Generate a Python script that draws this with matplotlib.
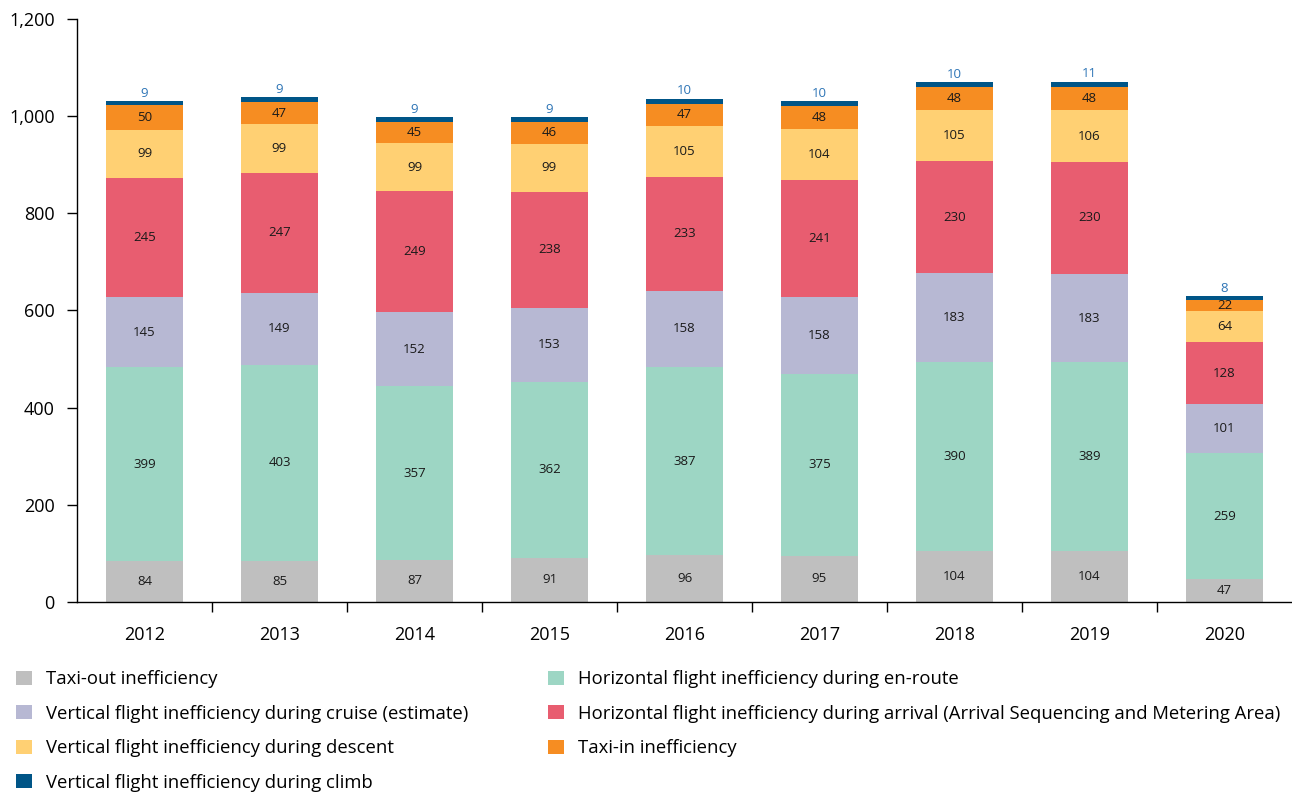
import matplotlib
matplotlib.use("Agg")
import matplotlib.pyplot as plt
from matplotlib.patches import Patch
import numpy as np

plt.rcParams['font.family'] = ['Open Sans', 'DejaVu Sans']

years = ["2012", "2013", "2014", "2015", "2016", "2017", "2018", "2019", "2020"]
taxi_out = [84, 85, 87, 91, 96, 95, 104, 104, 47]
enroute = [399, 403, 357, 362, 387, 375, 390, 389, 259]
cruise = [145, 149, 152, 153, 158, 158, 183, 183, 101]
arrival = [245, 247, 249, 238, 233, 241, 230, 230, 128]
descent = [99, 99, 99, 99, 105, 104, 105, 106, 64]
taxi_in = [50, 47, 45, 46, 47, 48, 48, 48, 22]
climb = [9, 9, 9, 9, 10, 10, 10, 11, 8]

series = [
    ("Taxi-out inefficiency", taxi_out, "#bfbfbf"),
    ("Horizontal flight inefficiency during en-route", enroute, "#9dd6c4"),
    ("Vertical flight inefficiency during cruise (estimate)", cruise, "#b7b8d3"),
    ("Horizontal flight inefficiency during arrival (Arrival Sequencing and Metering Area)", arrival, "#e85d70"),
    ("Vertical flight inefficiency during descent", descent, "#ffd073"),
    ("Taxi-in inefficiency", taxi_in, "#f68d22"),
    ("Vertical flight inefficiency during climb", climb, "#005587"),
]

fig = plt.figure(figsize=(12.92, 7.92), dpi=100)
ax = fig.add_axes([77/1292, 1-602/792, 1-77/1292, (602-19)/792])

x = np.arange(len(years))
bottom = np.zeros(len(years))
width = 0.57
for i, (name, vals, col) in enumerate(series):
    vals = np.array(vals, dtype=float)
    ax.bar(x, vals, width, bottom=bottom, color=col, linewidth=0)
    for xi, v, b in zip(x, vals, bottom):
        if i == len(series) - 1:
            ax.text(xi, b + v + 3, f"{int(v)}", ha="center", va="bottom",
                    fontsize=9.5, color="#2e75b6")
        else:
            ax.text(xi, b + v / 2, f"{int(v)}", ha="center", va="center",
                    fontsize=9.5, color="#1a1a1a")
    bottom += vals

ax.set_xlim(-0.5, len(years) - 0.5)
ax.set_ylim(0, 1200)
ax.set_yticks(range(0, 1201, 200))
ax.set_yticklabels([f"{v:,}" for v in range(0, 1201, 200)], fontsize=13)
ax.set_xticks(x)
ax.set_xticklabels(years, fontsize=13)
ax.tick_params(axis="x", length=0, pad=17)
ax.set_xticks(np.arange(0.5, len(years) - 0.5, 1), minor=True)
ax.tick_params(axis="x", which="minor", length=7, width=1, color="#000000")
ax.tick_params(axis="y", length=7, width=1, color="#000000", pad=9)
for s in ["top", "right"]:
    ax.spines[s].set_visible(False)
for s in ["left", "bottom"]:
    ax.spines[s].set_color("#000000")
    ax.spines[s].set_linewidth(1)

order = [0, 2, 4, 6, 1, 3, 5]
handles = [Patch(facecolor=series[k][2], label=series[k][0]) for k in order]
fig.legend(handles=handles, loc="upper left", bbox_to_anchor=(0.0067, 0.163),
           ncol=2, frameon=False, fontsize=13.3, handlelength=0.86,
           handleheight=0.81, handletextpad=0.76, labelspacing=0.89,
           columnspacing=4.33, borderaxespad=0)

fig.savefig("out.png", dpi=100)
